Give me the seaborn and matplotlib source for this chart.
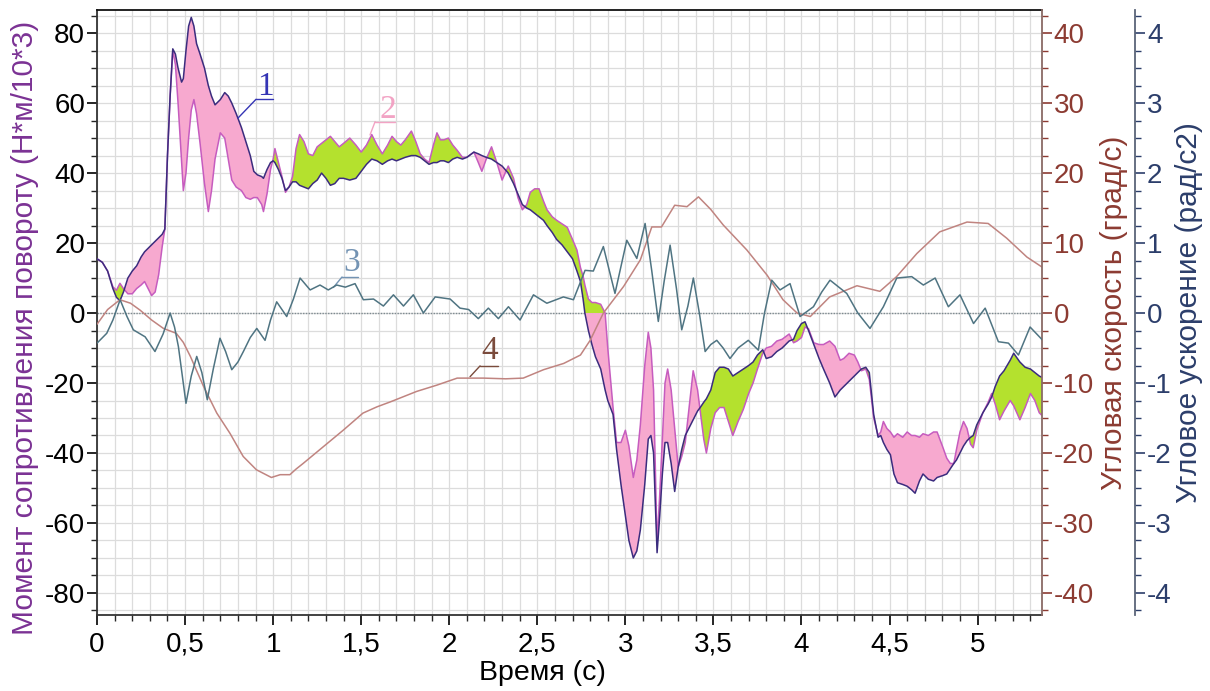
import numpy as np
import pandas as pd
import matplotlib
matplotlib.use("Agg")
import matplotlib.pyplot as plt
from matplotlib.ticker import MultipleLocator, FuncFormatter
import seaborn as sns

# ---------------- data ----------------
T_MOM = [0.00, 0.03, 0.06, 0.09, 0.11, 0.13, 0.15, 0.175, 0.20, 0.225, 0.25, 0.27, 0.29, 0.31, 0.33, 0.35, 0.37, 0.385,
         0.40, 0.415, 0.43, 0.445, 0.46, 0.48, 0.49, 0.505, 0.52, 0.535, 0.55, 0.565, 0.585, 0.61, 0.632, 0.65, 0.67,
         0.70, 0.725, 0.745, 0.765, 0.79, 0.82, 0.845, 0.87, 0.89, 0.91, 0.935, 0.945, 0.965, 0.985, 1.00, 1.01, 1.03,
         1.05, 1.07, 1.09, 1.11, 1.13, 1.15, 1.175, 1.20, 1.225, 1.25, 1.275, 1.30, 1.325, 1.35, 1.375, 1.40, 1.435,
         1.47, 1.50, 1.53, 1.56, 1.59, 1.62, 1.65, 1.675, 1.70, 1.725, 1.75, 1.785, 1.81, 1.835, 1.86, 1.885, 1.91,
         1.93, 1.95, 1.97, 1.995, 2.02, 2.045, 2.075, 2.10, 2.14, 2.165, 2.185, 2.21, 2.24, 2.27, 2.30, 2.335, 2.365,
         2.39, 2.415, 2.44, 2.46, 2.485, 2.51, 2.535, 2.555, 2.585, 2.61, 2.64, 2.67, 2.70, 2.725, 2.745, 2.76, 2.77,
         2.79, 2.81, 2.83, 2.86, 2.885, 2.90, 2.93, 2.95, 2.975, 3.00, 3.02, 3.045, 3.065, 3.085, 3.11, 3.13, 3.145,
         3.16, 3.18, 3.195, 3.21, 3.225, 3.24, 3.26, 3.28, 3.30, 3.32, 3.34, 3.36, 3.385, 3.41, 3.425, 3.445, 3.46,
         3.485, 3.51, 3.535, 3.56, 3.585, 3.61, 3.64, 3.67, 3.70, 3.725, 3.75, 3.78, 3.80, 3.83, 3.86, 3.89, 3.93,
         3.955, 3.975, 4.00, 4.02, 4.04, 4.07, 4.10, 4.125, 4.16, 4.19, 4.22, 4.24, 4.27, 4.30, 4.32, 4.34, 4.365,
         4.385, 4.41, 4.435, 4.45, 4.465, 4.485, 4.505, 4.525, 4.545, 4.575, 4.60, 4.625, 4.645, 4.67, 4.69, 4.72,
         4.75, 4.77, 4.80, 4.825, 4.845, 4.865, 4.88, 4.90, 4.92, 4.94, 4.96, 4.975, 4.995, 5.03, 5.06, 5.08, 5.10,
         5.125, 5.15, 5.185, 5.205, 5.24, 5.27, 5.30, 5.325, 5.35, 5.37]

# curve 1 (measured moment, dark)
M1 = [15.5, 14.5, 12, 7, 4.5, 3.5, 6, 10, 12, 13.5, 16, 17.5, 18.5, 19.5, 20.5, 21.5, 22.5, 24,
      45, 62, 75.5, 74, 70, 66, 67, 75, 82, 84.5, 82, 77, 74, 70, 65, 62, 59.5,
      61, 63, 62, 60, 57, 53, 49, 45, 40.5, 39.5, 39, 38.5, 41, 43, 43.5, 43, 41,
      38.5, 35, 36, 37.5, 37.5, 36.5, 36, 35.5, 37, 38, 40, 38.5, 36.5, 37, 38.5, 38.5, 38,
      38.5, 40.5, 42.5, 44, 43.5, 42.5, 43.5, 44, 43.5, 44, 44.5, 45, 45, 44.5, 43.5, 42.5, 43,
      43, 43.5, 43.5, 43, 44, 44.5, 44, 44.5, 46, 45.5, 45, 44.5, 44, 43, 42, 40, 37,
      34, 31, 30, 29.5, 28.5, 27.5, 26.5, 25, 23, 21, 19.5, 17.5, 15.5, 12, 9, 4, 0,
      -5, -9, -12.5, -16, -22, -25, -29, -39, -49, -58, -65, -70, -68, -62, -49, -36, -35,
      -40, -68.5, -58, -46, -37, -37, -43, -51, -44, -39, -35, -33, -30.5, -28, -27, -25.5, -24.5,
      -22, -17, -15.5, -15.5, -16, -18, -17, -16, -15, -14, -12, -10.5, -13, -12.5, -11, -10, -8,
      -7.5, -5, -3, -2.5, -5, -9, -13, -16, -20, -24, -22, -21, -19.5, -18, -17, -16, -15.5,
      -17, -29, -35.5, -35, -37, -39, -40.5, -46, -48.5, -49, -49.5, -50.5, -51.5, -48, -46, -47.5,
      -48, -47, -46.5, -46, -44.5, -43, -42, -40, -38, -36.5, -35.5, -35, -32, -28.5, -26, -24, -21,
      -18, -16.5, -13.5, -11.5, -14, -15.5, -16, -17, -18, -18.5]

# curve 2 (calculated moment, pink)
M2 = [15.5, 14.5, 12, 7.5, 6.5, 8.5, 7, 5.5, 5.5, 7, 8, 9, 7, 5, 6, 11, 19, 24,
      45, 62, 75, 71, 60, 43, 35, 40, 50, 58, 61, 57, 48.5, 37, 29, 35, 44,
      51.5, 50, 44, 38, 36, 35, 33, 32.5, 33, 33, 31, 29, 34, 41, 44, 47, 43,
      39, 34.5, 36, 39, 47, 51, 49, 45.5, 45, 47.5, 48.5, 49.5, 50.5, 49, 47.5, 48.5, 50,
      48, 46, 48, 51, 48, 45.5, 48, 50.5, 49, 48, 49.5, 52, 49, 45.5, 44, 43, 48,
      51.5, 49.5, 49.5, 50, 48, 46.5, 44.5, 44.5, 46, 43, 40.5, 44, 47.5, 43, 38, 42, 38.5,
      33, 29.5, 31, 34.5, 35.5, 35.5, 32, 29.5, 27.5, 26.5, 25.5, 24.5, 21, 18, 13, 10.5, 8,
      4, 3, 3, 2.5, 0, -10, -27, -37, -37, -33.5, -38, -47, -42, -32, -15, -5.5, -10,
      -22, -66, -52, -36, -20, -16, -22, -33, -44, -41, -37, -28, -16.5, -22, -28, -36, -40,
      -33, -28.5, -27, -27, -31, -35, -31, -27.5, -23, -20, -16, -11.5, -10, -9.5, -8, -7.5, -6,
      -8.5, -8, -7, -4, -4.5, -8.5, -9, -9, -8, -9.5, -13.5, -13, -11.5, -12, -14, -16.5, -16,
      -19, -30, -35, -34, -31, -33, -34, -35.5, -34.5, -35.5, -34, -35, -35, -35.5, -34.5, -35,
      -34, -34, -38, -41.5, -43, -43, -39, -34, -31, -33, -37.5, -38.5, -33.5, -28.5, -25.5, -23, -26,
      -30.5, -28, -25, -26.5, -30.5, -27, -23, -25, -28.5, -29.5]

# curve 3 (angular acceleration, rad/s2)
T_ACC = [0, 0.055, 0.09, 0.131, 0.17, 0.206, 0.273, 0.329, 0.375, 0.415, 0.44, 0.462, 0.505, 0.535, 0.566, 0.595,
         0.626, 0.66, 0.698, 0.73, 0.765, 0.80, 0.831, 0.87, 0.907, 0.954, 0.985, 1.02, 1.05, 1.077, 1.115, 1.153,
         1.21, 1.266, 1.313, 1.361, 1.41, 1.465, 1.512, 1.57, 1.626, 1.683, 1.74, 1.796, 1.853, 1.92, 2.005, 2.061,
         2.11, 2.165, 2.222, 2.279, 2.336, 2.402, 2.478, 2.554, 2.648, 2.705, 2.771, 2.818, 2.875, 2.941, 3.008,
         3.065, 3.112, 3.15, 3.187, 3.22, 3.254, 3.29, 3.32, 3.355, 3.386, 3.42, 3.453, 3.485, 3.519, 3.555, 3.594,
         3.64, 3.698, 3.755, 3.79, 3.831, 3.878, 3.935, 3.992, 4.068, 4.115, 4.162, 4.257, 4.32, 4.389, 4.465,
         4.541, 4.626, 4.692, 4.759, 4.834, 4.9, 4.977, 5.043, 5.118, 5.175, 5.232, 5.298, 5.37]
ACC = [-0.43, -0.29, -0.1, 0.19, -0.05, -0.24, -0.34, -0.55, -0.3, 0.0, -0.2, -0.48, -1.29, -0.9, -0.62, -0.85,
       -1.24, -0.8, -0.36, -0.55, -0.81, -0.7, -0.55, -0.35, -0.22, -0.39, -0.1, 0.16, 0.05, -0.05, 0.2, 0.5,
       0.33, 0.4, 0.33, 0.4, 0.37, 0.42, 0.19, 0.2, 0.1, 0.26, 0.1, 0.26, 0.0, 0.23, 0.2, 0.07,
       0.05, -0.08, 0.07, -0.08, 0.09, -0.1, 0.26, 0.14, 0.23, 0.19, 0.61, 0.6, 0.95, 0.28, 1.04,
       0.78, 1.28, 0.6, -0.12, 0.45, 0.97, 0.35, -0.24, 0.1, 0.5, 0.0, -0.55, -0.45, -0.39, -0.5, -0.65,
       -0.5, -0.39, -0.53, 0.0, 0.47, 0.33, 0.42, -0.05, 0.09, 0.3, 0.47, 0.28, 0.0, -0.22, 0.09,
       0.5, 0.52, 0.4, 0.5, 0.09, 0.26, -0.15, 0.07, -0.41, -0.43, -0.6, -0.2, -0.39]

# curve 4 (angular velocity, deg/s)
T_VEL = [0, 0.06, 0.13, 0.19, 0.245, 0.31, 0.377, 0.45, 0.49, 0.53, 0.605, 0.68, 0.755, 0.83, 0.905, 0.99, 1.04,
         1.095, 1.13, 1.17, 1.285, 1.40, 1.51, 1.59, 1.665, 1.815, 1.93, 2.045, 2.195, 2.32, 2.42, 2.535, 2.65,
         2.745, 2.80, 2.875, 2.99, 3.085, 3.15, 3.205, 3.28, 3.35, 3.415, 3.485, 3.555, 3.69, 3.805, 3.895, 3.975,
         4.05, 4.16, 4.315, 4.445, 4.54, 4.655, 4.785, 4.94, 5.06, 5.165, 5.28, 5.37]
VEL = [-1.6, 0.5, 1.9, 1.4, 0.4, -1.0, -2.2, -2.9, -4.2, -6.2, -10.5, -14.3, -17.2, -20.5, -22.4, -23.5, -23.1,
       -23.1, -22.3, -21.5, -19.1, -16.7, -14.3, -13.4, -12.7, -11.2, -10.3, -9.3, -9.3, -9.4, -9.3, -8.1, -7.2,
       -6.0, -3.9, 0.0, 3.8, 7.6, 12.3, 12.3, 15.4, 15.2, 16.6, 14.8, 12.6, 9.0, 5.4, 1.9, 0.0,
       -0.5, 2.3, 3.9, 3.1, 5.2, 8.5, 11.6, 13.0, 12.8, 10.7, 8.0, 6.5]

X_TICKS = [0, 0.5, 1, 1.5, 2, 2.5, 3, 3.5, 4, 4.5, 5]
LABELS = ["1", "2", "3", "4"]

# ---------------- style ----------------
sns.set_theme(style="white")
plt.rcParams["font.family"] = ["Liberation Sans", "DejaVu Sans"]
plt.rcParams["axes.unicode_minus"] = False

C1 = "#3b2c7e"
C2 = "#c65cbf"
PINK = "#f7a9cf"
GREEN = "#b4e12e"
CVEL = "#c08480"
CACC = "#4f7482"
LBL_M = "#7b3294"
LBL_V = "#8c3b32"
LBL_A = "#2c3e6b"
TICK_FS = 20

mom = pd.DataFrame({"t": T_MOM, "m1": M1, "m2": M2})
acc = pd.DataFrame({"t": T_ACC, "a": ACC})
vel = pd.DataFrame({"t": T_VEL, "v": VEL})

fig = plt.figure(figsize=(12.1, 6.91), dpi=100)
ax = fig.add_axes([0.0802, 0.110, 0.781, 0.8755])
ax_v = ax.twinx()
ax_a = ax.twinx()

XMAX = 5.366
YTOP, YBOT = 86.6, -86.3
ax.set_xlim(0, XMAX)
ax.set_ylim(YBOT, YTOP)
ax_v.set_ylim(YBOT / 2, YTOP / 2)
ax_a.set_ylim(YBOT / 20, YTOP / 20)

# grid
ax.xaxis.set_major_locator(MultipleLocator(0.5))
ax.xaxis.set_minor_locator(MultipleLocator(0.1))
ax.yaxis.set_major_locator(MultipleLocator(20))
ax.yaxis.set_minor_locator(MultipleLocator(5))
ax.set_axisbelow(True)
ax.grid(which="both", color="#dcdcdc", lw=0.9, ls="-")
ax.axhline(0, color="#7d8a90", lw=1.0, ls=(0, (1, 1)), zorder=1)

# fills (split at zero)
t = mom["t"].to_numpy()
m1 = mom["m1"].to_numpy()
m2 = mom["m2"].to_numpy()
p1, p2 = np.maximum(m1, 0), np.maximum(m2, 0)
n1, n2 = np.minimum(m1, 0), np.minimum(m2, 0)
ax.fill_between(t, p1, p2, where=p1 >= p2, interpolate=True, color=PINK, lw=0, zorder=2)
ax.fill_between(t, p1, p2, where=p2 > p1, interpolate=True, color=GREEN, lw=0, zorder=2)
ax.fill_between(t, n1, n2, where=n1 <= n2, interpolate=True, color=PINK, lw=0, zorder=2)
ax.fill_between(t, n1, n2, where=n2 < n1, interpolate=True, color=GREEN, lw=0, zorder=2)

sns.lineplot(data=mom, x="t", y="m2", ax=ax, color=C2, lw=1.1, zorder=3)
sns.lineplot(data=mom, x="t", y="m1", ax=ax, color=C1, lw=1.1, zorder=4)
sns.lineplot(data=vel, x="t", y="v", ax=ax_v, color=CVEL, lw=1.1)
sns.lineplot(data=acc, x="t", y="a", ax=ax_a, color=CACC, lw=1.1)

# ---- axes formatting ----
def comma(v, pos):
    s = f"{v:g}"
    return s.replace(".", ",")

ax.set_xticks(X_TICKS)
ax.xaxis.set_major_formatter(FuncFormatter(comma))
ax.tick_params(axis="x", which="major", direction="out", length=7, width=1.2, labelsize=TICK_FS,
               colors="black", pad=5, bottom=True)
ax.tick_params(axis="x", which="minor", direction="out", length=4, width=1, bottom=True)
ax.tick_params(axis="y", which="major", direction="out", length=7, width=1.2, labelsize=TICK_FS,
               colors="black", left=True, pad=1.5)
ax.tick_params(axis="y", which="minor", direction="out", length=4, width=1, left=True)

for sp in ["left", "bottom"]:
    ax.spines[sp].set_color("#333333")
    ax.spines[sp].set_linewidth(1.3)
ax.spines["top"].set_color("#111111")
ax.spines["top"].set_linewidth(1.3)
ax.spines["right"].set_visible(False)

ax.set_xlabel("Время (с)", fontsize=20.5, color="black")
ax.xaxis.set_label_coords(0.471, -0.074)
ax.set_ylabel("Момент сопротивления повороту (Н*м/10*3)", fontsize=21.5, color=LBL_M)
ax.yaxis.set_label_coords(-0.0615, 0.474)

# velocity axis
ax_v.yaxis.set_major_locator(MultipleLocator(10))
ax_v.yaxis.set_minor_locator(MultipleLocator(2.5))
ax_v.tick_params(axis="y", which="major", direction="out", length=7, width=1.2, labelsize=TICK_FS,
                 colors=LBL_V, right=True, pad=1.5)
ax_v.tick_params(axis="y", which="minor", direction="out", length=4, width=1, colors=LBL_V, right=True)
ax_v.spines["right"].set_color("#8a6a66")
ax_v.spines["right"].set_linewidth(1.3)
for sp in ["left", "top", "bottom"]:
    ax_v.spines[sp].set_visible(False)
ax_v.set_ylabel("Угловая скорость (град/с)", fontsize=21.5, color=LBL_V)
ax_v.yaxis.set_label_coords(1.0614, 0.50)
ax_v.grid(False)

# acceleration axis
ax_a.spines["right"].set_position(("outward", 67))
ax_a.yaxis.set_major_locator(MultipleLocator(1))
ax_a.yaxis.set_minor_locator(MultipleLocator(0.25))
ax_a.tick_params(axis="y", which="major", direction="out", length=7, width=1.2, labelsize=TICK_FS,
                 colors=LBL_A, right=True, pad=1.5)
ax_a.tick_params(axis="y", which="minor", direction="out", length=4, width=1, colors=LBL_A, right=True)
ax_a.spines["right"].set_color("#5a6478")
ax_a.spines["right"].set_linewidth(1.3)
for sp in ["left", "top", "bottom"]:
    ax_a.spines[sp].set_visible(False)
ax_a.set_ylabel("Угловое ускорение (рад/с2)", fontsize=21.5, color=LBL_A)
ax_a.yaxis.set_label_coords(1.1407, 0.50)
ax_a.grid(False)

# ---- curve labels (text, underline, leader) in moment-axis coordinates ----
ANN = [
    # label, color, text center (t, M), underline (t0, t1, M), leader end (t, M)
    ("1", "#3535b5", (0.954, 64.8), (0.903, 1.00, 61.1), (0.80, 55.7)),
    ("2", "#f2a3c4", (1.652, 58.2), (1.579, 1.692, 54.7), (1.55, 50.9)),
    ("3", "#7393b3", (1.448, 14.5), (1.391, 1.482, 10.3), (1.342, 7.3)),
    ("4", "#7a4b3c", (2.232, -10.9), (2.175, 2.277, -15.1), (2.118, -18.2)),
]
for lab, col, (tx, ty), (u0, u1, uy), (lx, ly) in ANN:
    ax.text(tx, ty, lab, color=col, fontsize=24, family=["Liberation Serif", "DejaVu Serif"],
            ha="center", va="center", zorder=6)
    ax.plot([u0, u1], [uy, uy], color=col, lw=1.0, zorder=6)
    ax.plot([u0, lx], [uy, ly], color=col, lw=1.0, zorder=6)

ax.set_xlim(0, XMAX)
ax.set_ylim(YBOT, YTOP)
fig.savefig("out.png", dpi=100)
